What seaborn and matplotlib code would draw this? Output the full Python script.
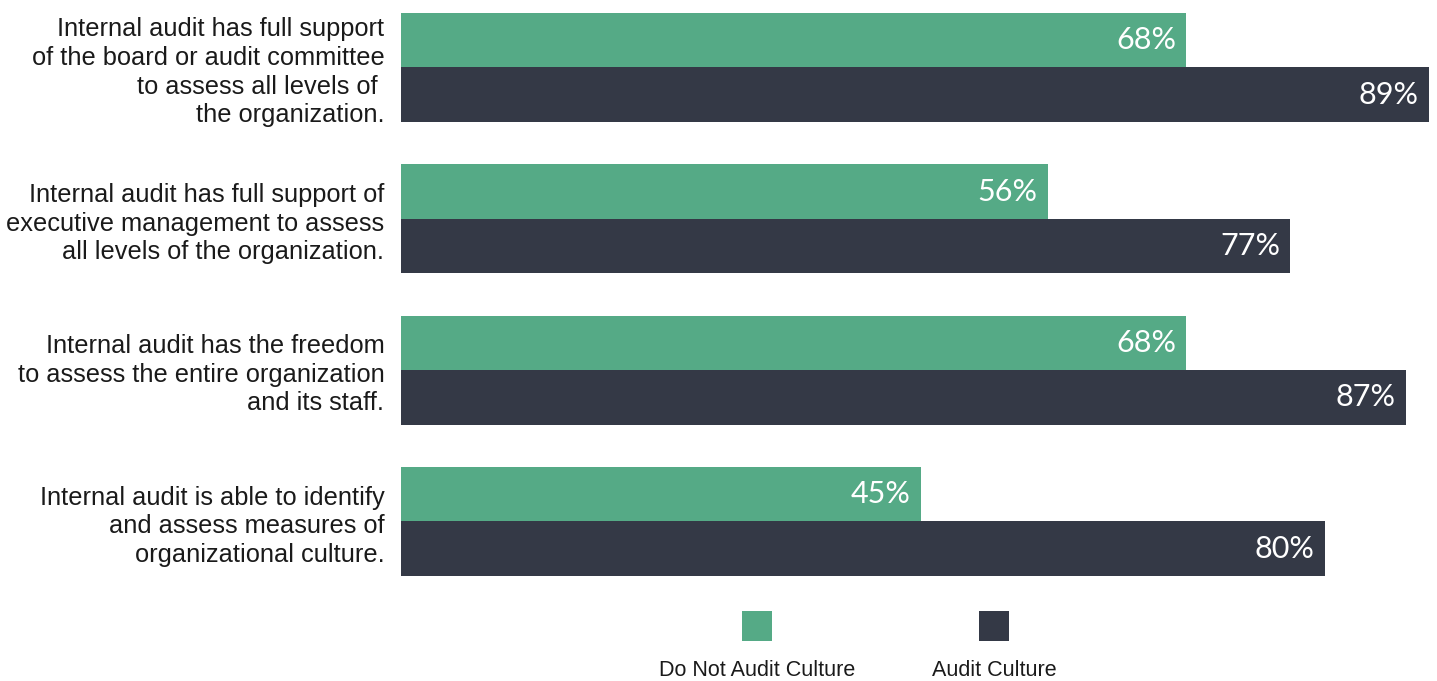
import matplotlib
matplotlib.use("Agg")
import matplotlib.pyplot as plt
import seaborn as sns
import pandas as pd
from matplotlib.patches import Rectangle

categories = [
    "Internal audit has full support\nof the board or audit committee\nto assess all levels of \nthe organization.",
    "Internal audit has full support of\nexecutive management to assess\nall levels of the organization.",
    "Internal audit has the freedom\nto assess the entire organization\nand its staff.",
    "Internal audit is able to identify\nand assess measures of\norganizational culture.",
]
series = ["Do Not Audit Culture", "Audit Culture"]
do_not_audit = [68, 56, 68, 45]
audit = [89, 77, 87, 80]
colors = ["#55AA86", "#343946"]

rows = []
for c, a, b in zip(categories, do_not_audit, audit):
    rows.append({"cat": c, "series": series[0], "value": a})
    rows.append({"cat": c, "series": series[1], "value": b})
df = pd.DataFrame(rows)

sns.set_style("white")
W, H = 1437, 681
fig = plt.figure(figsize=(W / 100, H / 100), dpi=100)
ax = fig.add_axes([401 / W, 1 - 600 / H, (W - 401) / W, 600 / H])

sns.barplot(data=df, y="cat", x="value", hue="series", orient="h",
            palette=colors, width=0.72, dodge=True, ax=ax, legend=False,
            saturation=1, order=categories, hue_order=series,
            linewidth=0, edgecolor="none")

ax.set_xlim(0, 1036 / 11.55)
ax.set_ylim(3.52, -0.446)
ax.set_xlabel("")
ax.set_ylabel("")
ax.set_xticks([])
for s in ax.spines.values():
    s.set_visible(False)
ax.tick_params(axis="y", length=0, pad=12)
for lbl in ax.get_yticklabels():
    lbl.set_fontfamily("Liberation Sans")
    lbl.set_fontsize(18.3)
    lbl.set_color("#1a1a1a")
    lbl.set_horizontalalignment("right")
    lbl.set_multialignment("right")
    lbl.set_linespacing(1.24)

for container in ax.containers:
    for patch in container.patches:
        w = patch.get_width()
        ax.annotate(f"{w:.0f}%", xy=(w, patch.get_y() + patch.get_height() / 2),
                    xytext=(-7.5, 0), textcoords="offset points", ha="right",
                    va="center", color="white", fontsize=22, family="Lato")

# legend
for x0, col, name in [(742, colors[0], series[0]), (979, colors[1], series[1])]:
    fig.add_artist(Rectangle((x0 / W, 1 - 641 / H), 30 / W, 30 / H,
                             transform=fig.transFigure, color=col, lw=0))
    fig.text((x0 + 15) / W, 1 - 670 / H, name, ha="center", va="center",
             fontsize=15.5, family="Liberation Sans", color="#1a1a1a")

fig.savefig("out.png", dpi=100)
